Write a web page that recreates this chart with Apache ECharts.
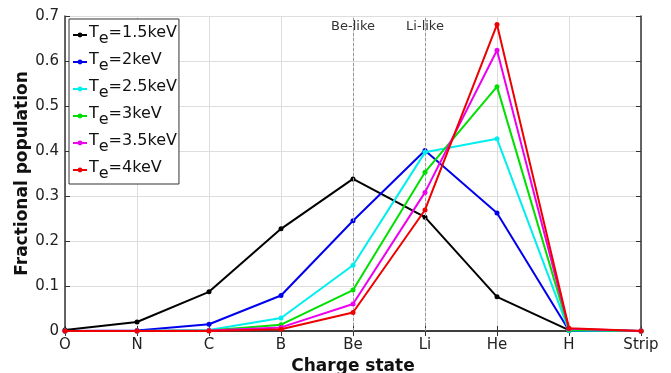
<!DOCTYPE html>
<html>
<head>
<meta charset="utf-8">
<script src="https://cdn.jsdelivr.net/npm/echarts@6/dist/echarts.min.js"></script>
<style>
    html, body { margin: 0; padding: 0; background: #fff; }
    #chart { width: 671px; height: 373px; }
</style>
</head>
<body>
<div id="chart"></div>
<script>
// charge states on the x axis
const chargeStates = ['O', 'N', 'C', 'B', 'Be', 'Li', 'He', 'H', 'Strip'];
const yTicks = [0, 0.1, 0.2, 0.3, 0.4, 0.5, 0.6, 0.7];

// fractional population for each electron temperature
const te15 = [0.002, 0.020, 0.087, 0.227, 0.338, 0.253, 0.076, 0.002, 0];
const te2 = [0, 0.001, 0.015, 0.079, 0.245, 0.401, 0.262, 0.001, 0];
const te25 = [0, 0, 0.002, 0.029, 0.146, 0.397, 0.427, 0.001, 0];
const te3 = [0, 0, 0.001, 0.014, 0.091, 0.353, 0.543, 0.003, 0];
const te35 = [0, 0, 0.001, 0.008, 0.060, 0.308, 0.624, 0.005, 0];
const te4 = [0, 0, 0, 0.004, 0.041, 0.269, 0.681, 0.006, 0];

const seriesNames = ['1.5keV', '2keV', '2.5keV', '3keV', '3.5keV', '4keV'];
const seriesData = [te15, te2, te25, te3, te35, te4];
const seriesColors = ['#000000', '#0000ee', '#00eeee', '#00e000', '#ee00ee', '#ee0000'];

const FONT = 'DejaVu Sans';

const chart = echarts.init(document.getElementById('chart'));

const series = seriesNames.map((n, i) => {
    const s = {
        name: n,
        type: 'line',
        data: seriesData[i],
        symbol: 'circle',
        symbolSize: 5,
        showSymbol: true,
        color: seriesColors[i],
        lineStyle: { width: 2 },
        z: 3 + i,
        animation: false
    };
    // dashed markers for Be-like and Li-like
    if (i === 0) {
        s.markLine = {
            silent: true,
            symbol: 'none',
            lineStyle: { color: '#999', type: [3, 2], width: 1 },
            label: {
                position: 'end',
                distance: -17,
                color: '#333',
                fontFamily: FONT,
                fontSize: 13,
                formatter: p => p.name
            },
            data: [
                { name: 'Be-like', xAxis: 'Be' },
                { name: 'Li-like', xAxis: 'Li' }
            ]
        };
    }
    return s;
});

const option = {
    animation: false,
    grid: { left: 65, right: 30, top: 16, bottom: 42, containLabel: false, outerBoundsMode: 'none' },
    legend: {
        orient: 'vertical',
        left: 69,
        top: 19,
        padding: [4, 2, 2, 3],
        itemGap: 3,
        itemWidth: 14,
        itemHeight: 6,
        backgroundColor: '#fff',
        borderColor: '#333',
        borderWidth: 1,
        borderRadius: 0,
        data: seriesNames,
        formatter: n => '{t|T}{s|e}{t|=' + n + '}',
        textStyle: {
            padding: [0, 0, 0, -3],
            rich: {
                t: { fontFamily: FONT, fontSize: 16, color: '#111', lineHeight: 21, verticalAlign: 'top' },
                s: { fontFamily: FONT, fontSize: 16, color: '#111', lineHeight: 13, padding: [8, 0, 0, 0] }
            }
        }
    },
    xAxis: [{
        type: 'category',
        data: chargeStates,
        boundaryGap: false,
        name: 'Charge state',
        nameLocation: 'middle',
        nameGap: 26,
        nameTextStyle: { fontFamily: FONT, fontSize: 17, fontWeight: 'bold', color: '#111' },
        axisLine: { lineStyle: { color: '#333', width: 1.5 } },
        axisTick: { inside: true, length: 5, alignWithLabel: true, lineStyle: { color: '#333' } },
        axisLabel: { fontFamily: FONT, fontSize: 15, color: '#222', margin: 7, interval: 0 },
        splitLine: { show: true, lineStyle: { color: '#ddd', width: 1 } }
    }, {
        type: 'category',
        position: 'top',
        data: chargeStates,
        boundaryGap: false,
        axisLine: { lineStyle: { color: '#333', width: 1.5 } },
        axisTick: { inside: true, length: 5, lineStyle: { color: '#333' } },
        axisLabel: { show: false },
        splitLine: { show: false }
    }],
    yAxis: [{
        type: 'value',
        min: 0,
        max: 0.7,
        interval: 0.1,
        name: 'Fractional population',
        nameLocation: 'middle',
        nameGap: 34,
        nameMoveOverlap: false,
        nameTextStyle: { fontFamily: FONT, fontSize: 17, fontWeight: 'bold', color: '#111' },
        axisLine: { show: true, lineStyle: { color: '#333', width: 1.5 } },
        axisTick: { show: true, inside: true, length: 5, lineStyle: { color: '#333' } },
        axisLabel: {
            fontFamily: FONT, fontSize: 15, color: '#222', margin: 6,
            formatter: v => yTicks.includes(+v.toFixed(1)) ? String(+v.toFixed(1)) : ''
        },
        splitLine: { show: true, lineStyle: { color: '#ddd', width: 1 } }
    }, {
        type: 'value',
        position: 'right',
        min: 0,
        max: 0.7,
        interval: 0.1,
        axisLine: { show: true, lineStyle: { color: '#333', width: 1.5 } },
        axisTick: { show: true, inside: true, length: 5, lineStyle: { color: '#333' } },
        axisLabel: { show: false },
        splitLine: { show: false }
    }],
    series: series
};

chart.setOption(option);
</script>
</body>
</html>
